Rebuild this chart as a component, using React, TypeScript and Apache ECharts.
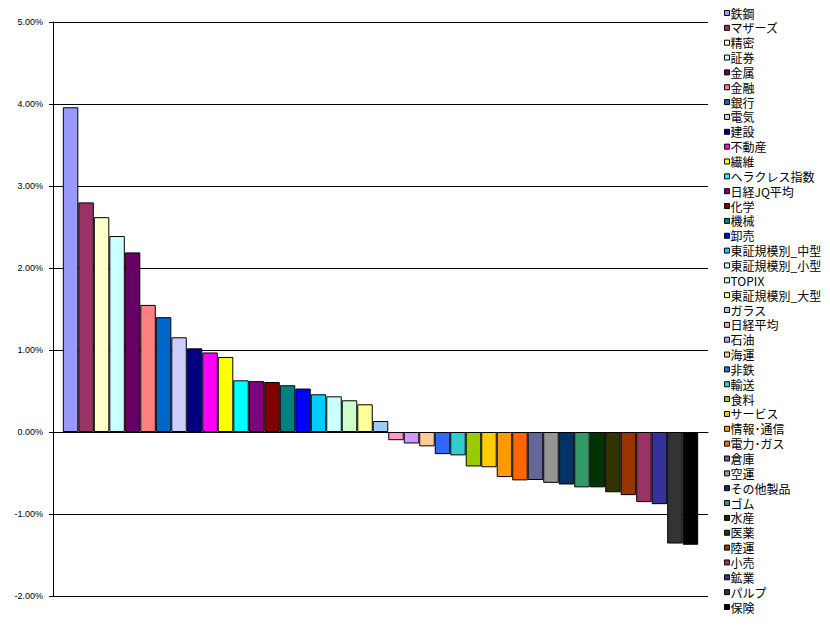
import React, { useEffect, useRef } from "react";
import * as echarts from "echarts";

const categories = [
  "鉄鋼", "マザーズ", "精密", "証券", "金属", "金融", "銀行", "電気", "建設", "不動産",
  "繊維", "ヘラクレス指数", "日経JQ平均", "化学", "機械", "卸売", "東証規模別_中型", "東証規模別_小型", "TOPIX", "東証規模別_大型",
  "ガラス", "日経平均", "石油", "海運", "非鉄", "輸送", "食料", "サービス", "情報･通信", "電力･ガス",
  "倉庫", "空運", "その他製品", "ゴム", "水産", "医薬", "陸運", "小売", "鉱業", "パルプ", "保険",
];

const values = [
  3.96, 2.8, 2.62, 2.39, 2.19, 1.55, 1.4, 1.155, 1.02, 0.97,
  0.915, 0.63, 0.62, 0.61, 0.57, 0.53, 0.46, 0.435, 0.387, 0.338,
  0.134, -0.1, -0.14, -0.175, -0.27, -0.285, -0.42, -0.43, -0.55, -0.59,
  -0.585, -0.62, -0.64, -0.675, -0.675, -0.735, -0.77, -0.855, -0.88, -1.36, -1.375,
];

const colors = [
  "#9999FF", "#993366", "#FFFFCC", "#CCFFFF", "#660066", "#FF8080", "#0066CC", "#CCCCFF", "#000080", "#FF00FF",
  "#FFFF00", "#00FFFF", "#800080", "#800000", "#008080", "#0000FF", "#00CCFF", "#CCFFFF", "#CCFFCC", "#FFFF99",
  "#99CCFF", "#FF99CC", "#CC99FF", "#FFCC99", "#3366FF", "#33CCCC", "#99CC00", "#FFCC00", "#FF9900", "#FF6600",
  "#666699", "#969696", "#003366", "#339966", "#003300", "#333300", "#993300", "#993366", "#333399", "#333333", "#000000",
];

const yTicks = { min: -2, max: 5, interval: 1 };

export default function App() {
  const ref = useRef<HTMLDivElement>(null);
  useEffect(() => {
    document.body.style.margin = "0";
    if (!ref.current) return;
    const chart = echarts.init(ref.current, undefined, { renderer: "svg" });
    chart.setOption({
      animation: false,
      backgroundColor: "#fff",
      grid: { left: 53, right: 122, top: 22, bottom: 37 },
      legend: {
        orient: "vertical",
        left: 724,
        top: 7,
        padding: 0,
        itemWidth: 5,
        itemHeight: 5,
        itemGap: 2.85,
        icon: "rect",
        itemStyle: { borderColor: "#000", borderWidth: 1 },
        textStyle: {
          fontSize: 12,
          lineHeight: 12,
          color: "#000",
          fontFamily: "Noto Sans CJK JP",
          padding: [0, 0, 0, -4],
        },
        data: categories,
      },
      xAxis: {
        type: "category",
        data: [""],
        axisLine: { onZero: true, lineStyle: { color: "#000", width: 1 } },
        axisTick: { show: false },
        axisLabel: { show: false },
        splitLine: { show: false },
        z: 10,
      },
      yAxis: {
        type: "value",
        min: yTicks.min,
        max: yTicks.max,
        interval: yTicks.interval,
        axisLine: { show: true, lineStyle: { color: "#000" } },
        axisTick: { show: true, inside: false, length: 4, lineStyle: { color: "#000" } },
        axisLabel: {
          formatter: (v: number) => v.toFixed(2) + "%",
          fontSize: 9,
          color: "#000",
          fontFamily: "Liberation Sans",
          margin: 10,
        },
        splitLine: { show: true, lineStyle: { color: "#000", width: 1 } },
      },
      series: categories.map((name, i) => ({
        name,
        type: "bar",
        data: [values[i]],
        barGap: "0%",
        barCategoryGap: "3%",
        itemStyle: { color: colors[i], borderColor: "#000", borderWidth: 1 },
      })),
    });
    return () => chart.dispose();
  }, []);
  return <div ref={ref} style={{ width: 830, height: 633 }} />;
}
